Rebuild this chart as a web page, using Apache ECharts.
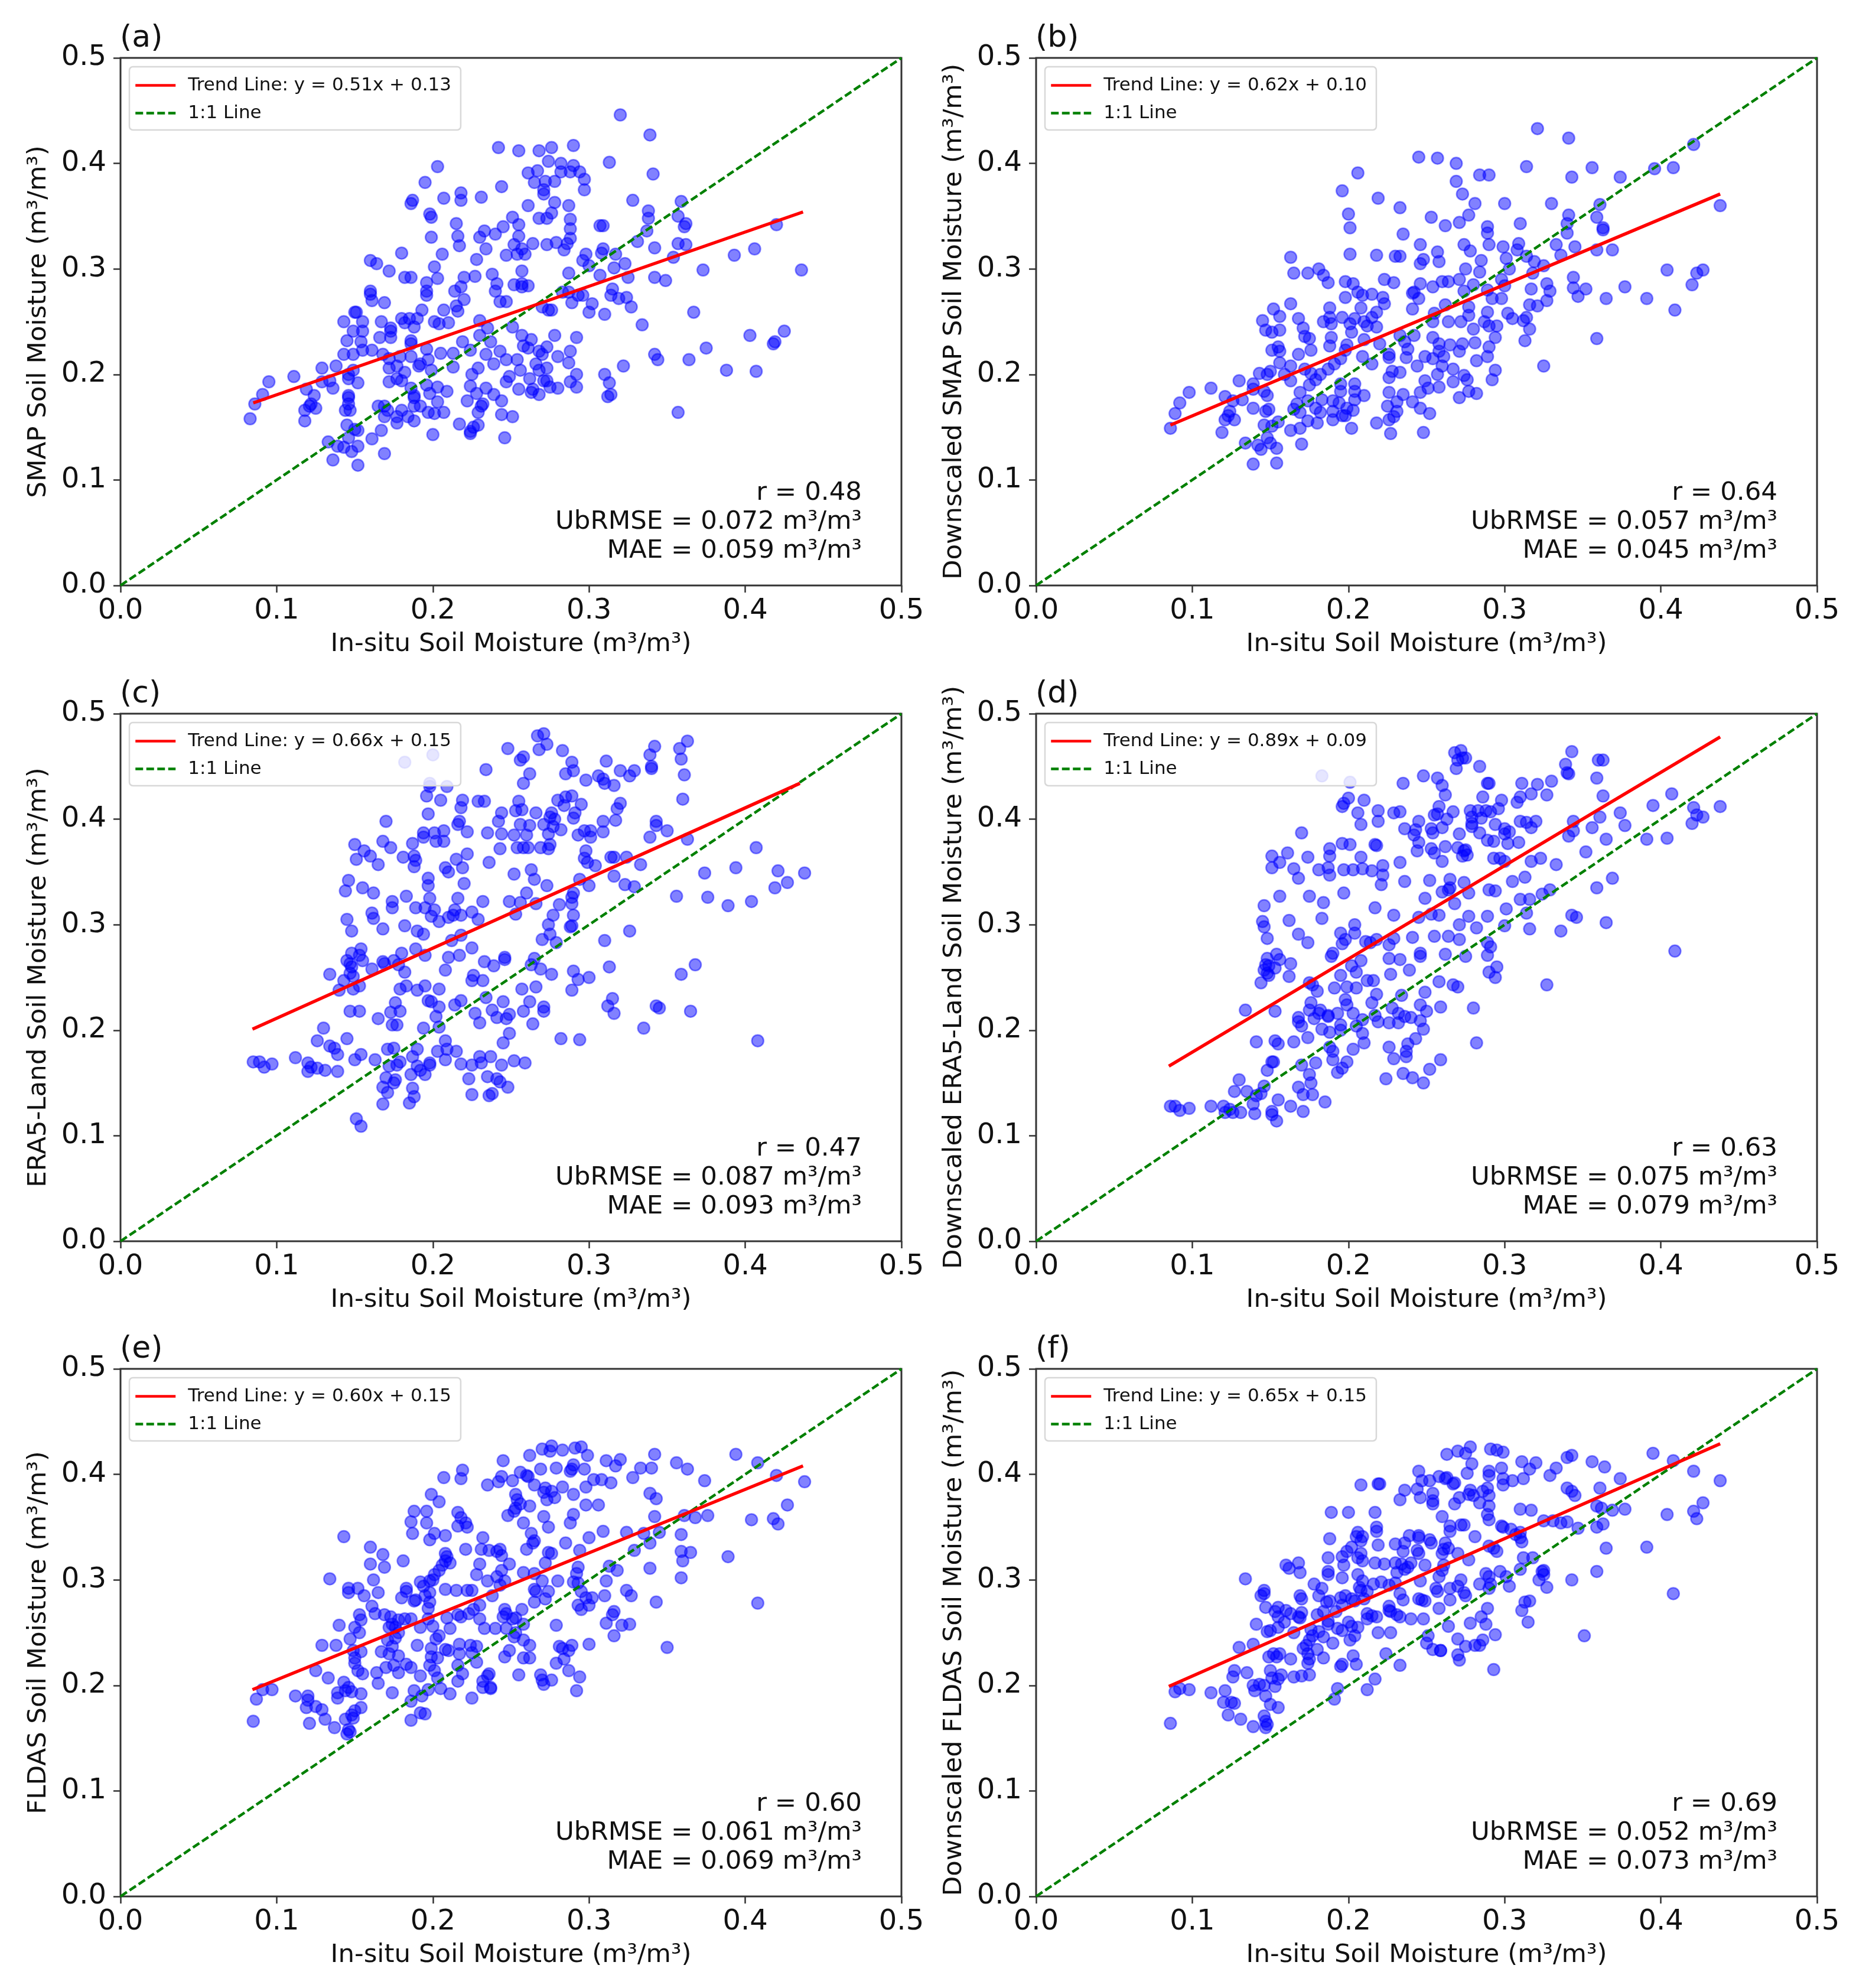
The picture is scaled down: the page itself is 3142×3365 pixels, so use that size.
<!DOCTYPE html>
<html><head><meta charset="utf-8">
<style>html,body{margin:0;padding:0;background:#fff}#c{width:3142px;height:3365px}</style>
<script src="https://cdn.jsdelivr.net/npm/echarts@6/dist/echarts.min.js"></script>
</head><body><div id="c"></div>
<script>
const pointsA=[[.320,.446],[.339,.427],[.242,.415],[.255,.412],[.268,.412],[.276,.415],[.290,.417],[.313,.401],[.274,.402],[.203,.397],[.282,.400],[.290,.398],[.261,.391],[.267,.393],[.282,.392],[.288,.392],[.294,.392],[.341,.390],[.297,.385],[.195,.382],[.265,.382],[.272,.383],[.278,.383],[.244,.378],[.297,.375],[.271,.375],[.271,.371],[.218,.372],[.218,.365],[.207,.367],[.231,.368],[.187,.365],[.186,.362],[.278,.363],[.328,.365],[.261,.360],[.287,.360],[.359,.364],[.338,.355],[.276,.353],[.198,.352],[.199,.349],[.251,.349],[.268,.348],[.273,.348],[.288,.347],[.338,.348],[.357,.350],[.215,.343],[.245,.340],[.255,.342],[.307,.341],[.309,.341],[.362,.343],[.361,.340],[.420,.342],[.233,.336],[.288,.338],[.337,.336],[.199,.330],[.216,.331],[.230,.330],[.240,.333],[.255,.331],[.288,.329],[.331,.326],[.264,.324],[.252,.323],[.273,.323],[.279,.325],[.286,.324],[.357,.324],[.362,.323],[.217,.322],[.234,.319],[.257,.319],[.284,.318],[.309,.319],[.342,.320],[.406,.319],[.180,.315],[.206,.314],[.247,.313],[.254,.314],[.259,.314],[.298,.314],[.308,.315],[.317,.314],[.393,.313],[.228,.309],[.160,.308],[.164,.305],[.296,.308],[.354,.311],[.323,.305],[.300,.303],[.201,.302],[.316,.301],[.257,.298],[.172,.298],[.287,.296],[.238,.295],[.373,.299],[.436,.299],[.182,.292],[.186,.292],[.203,.291],[.220,.292],[.227,.293],[.307,.294],[.325,.292],[.342,.292],[.349,.289],[.196,.287],[.241,.286],[.252,.285],[.257,.286],[.261,.284],[.257,.283],[.218,.283],[.240,.279],[.196,.279],[.160,.279],[.160,.276],[.214,.279],[.283,.278],[.287,.278],[.315,.281],[.196,.275],[.293,.275],[.296,.275],[.314,.275],[.319,.272],[.324,.273],[.220,.271],[.161,.270],[.169,.268],[.243,.269],[.247,.269],[.289,.268],[.302,.267],[.327,.264],[.215,.265],[.270,.264],[.274,.261],[.276,.261],[.193,.261],[.207,.261],[.216,.260],[.300,.259],[.310,.257],[.150,.259],[.151,.259],[.367,.259],[.185,.253],[.180,.253],[.190,.253],[.201,.250],[.143,.250],[.155,.250],[.167,.250],[.182,.249],[.204,.248],[.210,.249],[.230,.251],[.251,.245],[.173,.244],[.173,.241],[.149,.241],[.155,.241],[.188,.245],[.235,.244],[.334,.247],[.403,.237],[.425,.241],[.145,.232],[.166,.235],[.278,.237],[.173,.235],[.257,.237],[.292,.235],[.230,.237],[.263,.233],[.186,.232],[.154,.231],[.237,.231],[.219,.231],[.258,.227],[.419,.231],[.418,.229],[.186,.229],[.273,.226],[.155,.223],[.161,.223],[.196,.224],[.205,.220],[.213,.220],[.224,.223],[.243,.222],[.261,.225],[.268,.222],[.375,.225],[.143,.219],[.149,.219],[.168,.219],[.179,.217],[.186,.217],[.234,.219],[.270,.219],[.280,.217],[.342,.219],[.288,.222],[.364,.214],[.344,.214],[.197,.214],[.172,.215],[.247,.214],[.254,.214],[.266,.210],[.192,.210],[.191,.208],[.287,.211],[.322,.208],[.177,.208],[.138,.208],[.213,.207],[.129,.206],[.229,.206],[.239,.210],[.172,.206],[.256,.204],[.268,.204],[.273,.206],[.388,.204],[.407,.203],[.149,.204],[.146,.200],[.182,.202],[.199,.204],[.111,.198],[.292,.200],[.310,.200],[.225,.200],[.146,.196],[.177,.196],[.249,.198],[.262,.196],[.095,.193],[.134,.194],[.129,.193],[.152,.192],[.172,.193],[.180,.194],[.247,.193],[.271,.194],[.273,.194],[.288,.193],[.313,.192],[.186,.187],[.196,.190],[.203,.188],[.224,.189],[.234,.187],[.255,.186],[.264,.186],[.275,.188],[.280,.187],[.292,.188],[.119,.186],[.136,.187],[.146,.180],[.209,.184],[.188,.180],[.198,.182],[.228,.182],[.239,.181],[.263,.183],[.268,.181],[.091,.181],[.124,.180],[.314,.181],[.312,.179],[.146,.178],[.188,.178],[.222,.175],[.244,.175],[.086,.172],[.122,.172],[.121,.170],[.146,.172],[.203,.174],[.165,.170],[.169,.170],[.232,.172],[.231,.170],[.192,.170],[.188,.170],[.125,.168],[.118,.166],[.144,.166],[.147,.166],[.171,.166],[.180,.166],[.197,.164],[.207,.164],[.357,.164],[.229,.164],[.169,.160],[.177,.160],[.184,.160],[.201,.163],[.244,.162],[.251,.160],[.083,.158],[.188,.156],[.118,.156],[.177,.154],[.217,.153],[.229,.152],[.145,.152],[.226,.150],[.150,.148],[.152,.147],[.167,.147],[.224,.146],[.200,.143],[.224,.144],[.246,.140],[.161,.139],[.133,.136],[.146,.140],[.139,.132],[.152,.132],[.148,.127],[.143,.131],[.169,.125],[.136,.119],[.152,.114]];
const pointsB=[[.321,.433],[.341,.424],[.421,.418],[.245,.406],[.257,.405],[.269,.400],[.314,.397],[.356,.396],[.396,.395],[.408,.396],[.206,.391],[.284,.389],[.290,.389],[.343,.387],[.374,.387],[.269,.383],[.196,.374],[.273,.371],[.219,.367],[.281,.362],[.300,.362],[.330,.362],[.361,.361],[.233,.358],[.438,.360],[.200,.352],[.253,.349],[.277,.351],[.341,.351],[.359,.349],[.271,.344],[.310,.343],[.340,.343],[.201,.339],[.262,.341],[.289,.340],[.363,.339],[.363,.337],[.289,.334],[.235,.333],[.340,.334],[.246,.323],[.274,.323],[.290,.323],[.299,.321],[.309,.324],[.333,.323],[.345,.321],[.278,.317],[.359,.318],[.369,.318],[.308,.318],[.201,.314],[.218,.313],[.230,.312],[.233,.312],[.257,.316],[.301,.310],[.314,.312],[.336,.313],[.163,.311],[.248,.309],[.258,.307],[.246,.305],[.285,.308],[.319,.307],[.325,.303],[.303,.300],[.181,.300],[.165,.296],[.174,.296],[.184,.294],[.275,.300],[.284,.297],[.318,.296],[.404,.299],[.427,.299],[.423,.296],[.344,.292],[.187,.287],[.198,.288],[.203,.286],[.223,.290],[.229,.287],[.246,.286],[.260,.288],[.264,.288],[.271,.290],[.280,.285],[.298,.290],[.327,.286],[.420,.285],[.377,.283],[.344,.282],[.352,.281],[.254,.283],[.274,.279],[.289,.280],[.300,.284],[.317,.281],[.329,.279],[.206,.278],[.209,.275],[.215,.276],[.241,.277],[.242,.278],[.347,.274],[.222,.273],[.198,.273],[.245,.272],[.365,.272],[.391,.272],[.292,.272],[.298,.272],[.327,.270],[.223,.267],[.163,.267],[.262,.266],[.316,.266],[.321,.265],[.188,.263],[.208,.263],[.277,.264],[.152,.262],[.241,.262],[.409,.261],[.218,.259],[.302,.258],[.255,.258],[.156,.255],[.289,.259],[.277,.256],[.215,.254],[.168,.253],[.196,.254],[.188,.254],[.204,.253],[.210,.250],[.314,.254],[.305,.253],[.145,.251],[.184,.250],[.189,.248],[.201,.248],[.254,.250],[.264,.250],[.272,.250],[.287,.250],[.312,.251],[.212,.246],[.295,.246],[.290,.246],[.171,.244],[.218,.245],[.147,.242],[.156,.242],[.280,.243],[.316,.243],[.151,.240],[.202,.240],[.172,.236],[.233,.237],[.242,.237],[.254,.235],[.175,.234],[.189,.235],[.210,.233],[.294,.235],[.359,.234],[.313,.232],[.236,.231],[.220,.229],[.199,.228],[.281,.230],[.258,.229],[.265,.228],[.273,.229],[.188,.227],[.155,.226],[.238,.224],[.290,.226],[.151,.223],[.156,.222],[.258,.222],[.176,.223],[.271,.222],[.168,.219],[.226,.219],[.198,.223],[.209,.217],[.237,.216],[.289,.217],[.261,.217],[.254,.215],[.249,.217],[.226,.216],[.156,.211],[.195,.215],[.282,.213],[.215,.210],[.191,.210],[.244,.208],[.260,.208],[.325,.208],[.163,.208],[.187,.205],[.267,.205],[.172,.205],[.294,.204],[.228,.203],[.233,.202],[.150,.203],[.176,.201],[.148,.200],[.159,.200],[.182,.200],[.257,.200],[.274,.199],[.143,.201],[.226,.197],[.130,.194],[.163,.194],[.179,.195],[.292,.195],[.249,.194],[.267,.193],[.276,.195],[.139,.191],[.195,.191],[.204,.191],[.175,.190],[.258,.188],[.112,.187],[.251,.187],[.139,.186],[.146,.184],[.098,.183],[.169,.183],[.246,.183],[.277,.184],[.195,.184],[.204,.184],[.282,.182],[.226,.183],[.235,.181],[.121,.179],[.148,.180],[.210,.180],[.174,.175],[.271,.178],[.190,.175],[.132,.176],[.204,.176],[.183,.176],[.231,.174],[.241,.174],[.194,.173],[.092,.173],[.126,.175],[.167,.172],[.225,.170],[.246,.168],[.179,.168],[.139,.168],[.149,.167],[.165,.167],[.199,.168],[.190,.165],[.203,.166],[.231,.165],[.147,.165],[.124,.165],[.089,.163],[.182,.164],[.169,.164],[.252,.163],[.123,.161],[.196,.161],[.229,.160],[.121,.157],[.127,.157],[.174,.156],[.190,.157],[.180,.154],[.226,.157],[.218,.154],[.198,.161],[.146,.152],[.155,.155],[.086,.149],[.169,.149],[.202,.149],[.151,.151],[.163,.147],[.119,.145],[.248,.145],[.227,.144],[.148,.140],[.134,.135],[.170,.134],[.142,.133],[.150,.135],[.144,.129],[.154,.130],[.139,.115],[.154,.116]];
const pointsC=[[.271,.481],[.267,.479],[.273,.471],[.248,.467],[.342,.469],[.363,.474],[.358,.467],[.268,.466],[.283,.465],[.339,.461],[.182,.454],[.200,.461],[.258,.459],[.256,.456],[.359,.457],[.311,.455],[.289,.454],[.340,.450],[.340,.448],[.234,.447],[.320,.446],[.329,.446],[.290,.446],[.262,.443],[.285,.443],[.326,.441],[.361,.442],[.306,.441],[.309,.438],[.298,.437],[.310,.434],[.316,.432],[.258,.434],[.198,.434],[.209,.431],[.198,.431],[.196,.422],[.205,.418],[.219,.418],[.229,.417],[.233,.417],[.255,.417],[.285,.421],[.289,.422],[.280,.418],[.360,.419],[.218,.411],[.284,.413],[.295,.414],[.320,.415],[.318,.410],[.257,.409],[.253,.408],[.244,.406],[.266,.406],[.276,.406],[.197,.405],[.291,.406],[.290,.401],[.275,.402],[.278,.400],[.170,.398],[.242,.398],[.317,.399],[.309,.398],[.217,.398],[.216,.395],[.256,.395],[.262,.394],[.271,.395],[.343,.398],[.343,.394],[.277,.393],[.282,.390],[.297,.389],[.301,.389],[.309,.388],[.207,.389],[.194,.387],[.201,.387],[.222,.388],[.235,.387],[.244,.386],[.252,.385],[.260,.385],[.274,.386],[.293,.385],[.301,.383],[.350,.389],[.339,.383],[.194,.383],[.202,.379],[.207,.379],[.168,.379],[.187,.377],[.363,.381],[.150,.376],[.173,.373],[.275,.376],[.258,.373],[.254,.373],[.261,.373],[.243,.372],[.269,.373],[.274,.372],[.407,.373],[.156,.370],[.298,.370],[.222,.367],[.160,.365],[.181,.364],[.188,.365],[.314,.364],[.316,.364],[.324,.364],[.297,.363],[.151,.362],[.215,.362],[.189,.361],[.299,.359],[.236,.359],[.165,.357],[.188,.355],[.333,.357],[.304,.356],[.219,.354],[.208,.354],[.263,.352],[.210,.350],[.394,.354],[.421,.351],[.438,.349],[.374,.349],[.252,.348],[.316,.346],[.265,.343],[.197,.344],[.294,.343],[.146,.342],[.427,.340],[.220,.339],[.197,.337],[.273,.337],[.300,.337],[.323,.338],[.329,.336],[.419,.335],[.155,.335],[.144,.332],[.162,.330],[.260,.330],[.290,.330],[.356,.327],[.183,.327],[.289,.326],[.376,.326],[.216,.325],[.198,.325],[.249,.322],[.174,.322],[.232,.322],[.404,.322],[.256,.321],[.266,.320],[.281,.319],[.289,.320],[.174,.316],[.189,.316],[.195,.316],[.389,.318],[.201,.314],[.214,.314],[.161,.311],[.225,.312],[.218,.309],[.253,.310],[.199,.308],[.210,.307],[.213,.309],[.277,.309],[.290,.309],[.162,.306],[.145,.305],[.229,.305],[.204,.303],[.182,.299],[.274,.300],[.289,.299],[.288,.298],[.168,.296],[.148,.294],[.190,.294],[.326,.294],[.194,.291],[.275,.291],[.218,.290],[.270,.286],[.310,.285],[.212,.285],[.279,.283],[.225,.278],[.154,.277],[.189,.277],[.148,.273],[.180,.273],[.195,.271],[.153,.271],[.210,.269],[.217,.271],[.246,.269],[.246,.267],[.265,.268],[.145,.266],[.155,.266],[.168,.265],[.175,.266],[.147,.263],[.233,.265],[.148,.260],[.169,.263],[.178,.262],[.239,.261],[.313,.260],[.263,.262],[.368,.262],[.161,.258],[.208,.257],[.269,.258],[.290,.256],[.182,.255],[.147,.254],[.134,.253],[.276,.253],[.226,.252],[.359,.253],[.149,.251],[.225,.247],[.232,.247],[.300,.250],[.293,.248],[.143,.247],[.153,.242],[.195,.242],[.183,.242],[.179,.239],[.266,.241],[.257,.239],[.140,.238],[.149,.239],[.190,.238],[.204,.239],[.289,.238],[.234,.231],[.315,.230],[.197,.228],[.199,.227],[.218,.228],[.176,.226],[.245,.227],[.262,.227],[.214,.224],[.312,.223],[.343,.223],[.345,.221],[.204,.222],[.271,.222],[.271,.218],[.238,.219],[.179,.218],[.147,.218],[.153,.218],[.173,.217],[.258,.218],[.365,.218],[.227,.216],[.249,.215],[.316,.216],[.202,.213],[.241,.212],[.247,.211],[.165,.211],[.230,.207],[.264,.206],[.174,.205],[.177,.205],[.130,.202],[.204,.203],[.335,.202],[.194,.202],[.249,.197],[.145,.192],[.282,.192],[.294,.191],[.408,.190],[.126,.190],[.208,.190],[.245,.188],[.134,.185],[.137,.183],[.209,.182],[.171,.182],[.175,.183],[.190,.182],[.203,.180],[.215,.180],[.139,.177],[.154,.177],[.187,.175],[.230,.175],[.237,.175],[.112,.174],[.163,.172],[.150,.172],[.208,.172],[.085,.170],[.089,.170],[.179,.170],[.198,.169],[.120,.169],[.231,.169],[.252,.171],[.259,.169],[.097,.168],[.092,.165],[.218,.168],[.225,.167],[.244,.167],[.172,.166],[.177,.167],[.122,.165],[.126,.164],[.190,.166],[.198,.167],[.120,.161],[.139,.161],[.131,.162],[.192,.162],[.195,.158],[.186,.158],[.170,.155],[.235,.156],[.223,.154],[.241,.154],[.176,.153],[.243,.151],[.175,.150],[.168,.146],[.248,.146],[.187,.145],[.171,.141],[.225,.139],[.238,.140],[.236,.138],[.188,.137],[.168,.130],[.185,.131],[.151,.116],[.154,.109]];
const pointsD=[[.272,.465],[.268,.463],[.275,.458],[.343,.464],[.360,.456],[.363,.456],[.270,.456],[.273,.458],[.339,.452],[.269,.448],[.284,.450],[.340,.444],[.341,.443],[.359,.439],[.248,.441],[.257,.439],[.235,.434],[.260,.432],[.289,.434],[.290,.434],[.311,.434],[.321,.433],[.330,.436],[.183,.441],[.201,.435],[.262,.423],[.327,.423],[.317,.424],[.363,.422],[.286,.421],[.310,.421],[.407,.424],[.200,.420],[.210,.418],[.298,.418],[.197,.415],[.308,.416],[.196,.412],[.395,.413],[.258,.412],[.438,.412],[.421,.411],[.296,.410],[.206,.406],[.219,.408],[.229,.406],[.233,.407],[.267,.407],[.278,.408],[.283,.408],[.288,.408],[.291,.407],[.255,.404],[.257,.405],[.374,.406],[.423,.404],[.427,.402],[.279,.402],[.285,.401],[.263,.400],[.361,.402],[.219,.398],[.245,.398],[.310,.398],[.314,.397],[.320,.398],[.344,.398],[.279,.396],[.208,.395],[.170,.387],[.236,.391],[.243,.390],[.253,.391],[.260,.392],[.279,.393],[.294,.395],[.300,.391],[.317,.392],[.377,.394],[.356,.392],[.344,.389],[.242,.385],[.254,.387],[.271,.386],[.284,.387],[.300,.386],[.303,.388],[.341,.384],[.420,.396],[.404,.382],[.391,.381],[.365,.381],[.309,.378],[.289,.380],[.293,.379],[.302,.377],[.245,.378],[.253,.372],[.262,.374],[.270,.373],[.275,.371],[.196,.377],[.201,.376],[.217,.376],[.218,.375],[.188,.372],[.244,.370],[.255,.368],[.274,.370],[.352,.369],[.276,.366],[.273,.365],[.151,.365],[.161,.368],[.174,.364],[.188,.365],[.208,.364],[.260,.360],[.293,.363],[.297,.363],[.300,.360],[.323,.363],[.156,.359],[.233,.359],[.222,.356],[.317,.360],[.333,.357],[.151,.354],[.165,.353],[.181,.352],[.187,.354],[.197,.352],[.203,.352],[.209,.353],[.215,.351],[.188,.347],[.222,.347],[.168,.344],[.313,.345],[.369,.344],[.236,.341],[.252,.342],[.265,.343],[.274,.340],[.305,.341],[.221,.338],[.265,.335],[.264,.333],[.359,.335],[.290,.333],[.294,.332],[.329,.333],[.197,.330],[.260,.331],[.277,.330],[.156,.327],[.175,.327],[.324,.329],[.249,.325],[.310,.324],[.316,.324],[.184,.321],[.146,.318],[.268,.320],[.217,.316],[.301,.315],[.253,.310],[.229,.309],[.314,.311],[.343,.309],[.346,.307],[.183,.306],[.245,.307],[.258,.309],[.277,.308],[.289,.308],[.145,.303],[.162,.304],[.204,.300],[.271,.300],[.300,.299],[.316,.296],[.365,.302],[.146,.298],[.282,.297],[.336,.294],[.168,.291],[.195,.292],[.204,.292],[.241,.288],[.255,.289],[.264,.289],[.271,.286],[.148,.287],[.198,.286],[.174,.283],[.229,.287],[.218,.286],[.196,.282],[.211,.284],[.214,.283],[.226,.281],[.289,.283],[.291,.279],[.409,.275],[.190,.273],[.189,.270],[.246,.273],[.262,.272],[.275,.270],[.246,.270],[.289,.271],[.154,.272],[.148,.268],[.156,.267],[.226,.268],[.233,.267],[.208,.266],[.163,.263],[.147,.262],[.149,.261],[.202,.261],[.295,.260],[.290,.255],[.153,.259],[.205,.255],[.239,.257],[.146,.257],[.148,.254],[.149,.252],[.195,.252],[.227,.253],[.162,.251],[.294,.250],[.212,.247],[.216,.247],[.175,.245],[.144,.245],[.258,.246],[.267,.243],[.270,.241],[.327,.243],[.177,.243],[.191,.240],[.199,.241],[.205,.240],[.180,.237],[.249,.236],[.218,.234],[.234,.233],[.198,.229],[.176,.226],[.215,.226],[.199,.224],[.246,.224],[.259,.222],[.280,.221],[.134,.219],[.153,.218],[.175,.219],[.182,.219],[.228,.221],[.250,.218],[.181,.216],[.187,.214],[.193,.216],[.203,.216],[.232,.216],[.236,.213],[.168,.212],[.178,.211],[.187,.213],[.240,.212],[.209,.210],[.217,.214],[.246,.209],[.168,.208],[.226,.207],[.232,.207],[.219,.208],[.170,.204],[.195,.205],[.205,.204],[.183,.201],[.248,.201],[.188,.198],[.195,.200],[.209,.197],[.243,.192],[.174,.193],[.141,.189],[.153,.190],[.155,.187],[.165,.189],[.238,.187],[.210,.188],[.282,.188],[.226,.184],[.188,.184],[.203,.182],[.190,.180],[.237,.180],[.229,.173],[.237,.175],[.259,.172],[.151,.170],[.190,.172],[.199,.170],[.152,.170],[.170,.167],[.179,.169],[.148,.162],[.196,.164],[.252,.163],[.193,.160],[.175,.158],[.224,.154],[.235,.159],[.241,.155],[.130,.153],[.248,.150],[.176,.150],[.168,.146],[.146,.147],[.127,.142],[.135,.142],[.141,.138],[.144,.140],[.171,.139],[.177,.139],[.155,.134],[.139,.130],[.185,.132],[.112,.128],[.086,.128],[.089,.128],[.098,.126],[.092,.124],[.120,.128],[.124,.125],[.121,.122],[.126,.122],[.131,.122],[.140,.121],[.151,.123],[.151,.120],[.163,.128],[.171,.123],[.154,.114]];
const pointsE=[[.276,.427],[.270,.424],[.291,.425],[.295,.426],[.283,.423],[.299,.418],[.262,.418],[.275,.422],[.342,.419],[.394,.419],[.245,.413],[.311,.413],[.320,.414],[.356,.411],[.408,.411],[.290,.409],[.317,.408],[.279,.406],[.269,.405],[.289,.405],[.297,.405],[.333,.406],[.340,.406],[.363,.405],[.219,.404],[.288,.403],[.256,.402],[.260,.399],[.207,.397],[.218,.396],[.244,.398],[.261,.398],[.303,.395],[.308,.395],[.328,.397],[.242,.393],[.251,.394],[.265,.390],[.314,.392],[.374,.394],[.420,.399],[.438,.393],[.235,.390],[.272,.387],[.283,.388],[.276,.384],[.298,.388],[.271,.383],[.339,.382],[.199,.381],[.253,.381],[.290,.381],[.278,.378],[.343,.377],[.273,.376],[.254,.376],[.204,.374],[.256,.372],[.298,.371],[.306,.371],[.262,.370],[.427,.371],[.253,.368],[.252,.365],[.188,.365],[.196,.365],[.216,.364],[.290,.362],[.248,.361],[.271,.360],[.342,.360],[.361,.361],[.368,.359],[.376,.361],[.218,.359],[.186,.355],[.196,.354],[.221,.354],[.258,.354],[.288,.354],[.404,.357],[.418,.358],[.421,.353],[.216,.351],[.222,.350],[.274,.350],[.309,.346],[.324,.345],[.187,.344],[.201,.344],[.263,.344],[.335,.344],[.345,.345],[.208,.342],[.198,.338],[.359,.343],[.143,.341],[.300,.340],[.232,.340],[.265,.337],[.285,.335],[.339,.335],[.264,.335],[.160,.331],[.221,.329],[.231,.329],[.236,.328],[.241,.327],[.243,.329],[.260,.329],[.274,.326],[.168,.324],[.329,.328],[.208,.325],[.209,.322],[.244,.323],[.276,.325],[.294,.328],[.359,.327],[.365,.326],[.208,.318],[.181,.318],[.389,.322],[.360,.318],[.206,.314],[.160,.315],[.230,.315],[.249,.315],[.211,.316],[.169,.312],[.272,.316],[.293,.312],[.313,.313],[.204,.309],[.244,.309],[.339,.311],[.201,.305],[.258,.307],[.265,.306],[.292,.306],[.318,.309],[.228,.305],[.241,.303],[.359,.302],[.134,.301],[.162,.300],[.198,.299],[.200,.300],[.235,.299],[.246,.299],[.270,.299],[.280,.299],[.311,.299],[.192,.298],[.290,.298],[.194,.294],[.243,.295],[.293,.297],[.146,.292],[.152,.292],[.183,.292],[.265,.291],[.208,.291],[.215,.290],[.222,.290],[.225,.290],[.266,.289],[.295,.289],[.324,.290],[.183,.289],[.165,.288],[.274,.289],[.198,.288],[.146,.288],[.238,.285],[.327,.285],[.310,.285],[.298,.283],[.195,.285],[.156,.285],[.180,.283],[.272,.282],[.302,.283],[.189,.281],[.198,.279],[.265,.279],[.188,.280],[.343,.279],[.408,.278],[.161,.275],[.230,.276],[.293,.276],[.300,.276],[.197,.273],[.226,.272],[.295,.272],[.257,.272],[.153,.267],[.163,.268],[.216,.267],[.247,.268],[.246,.272],[.169,.267],[.316,.270],[.315,.267],[.173,.265],[.245,.265],[.253,.264],[.197,.263],[.209,.264],[.218,.265],[.223,.268],[.154,.262],[.178,.262],[.182,.263],[.174,.258],[.230,.263],[.251,.263],[.176,.255],[.186,.263],[.311,.259],[.321,.257],[.258,.258],[.140,.257],[.150,.255],[.192,.255],[.200,.256],[.326,.258],[.172,.255],[.211,.254],[.233,.254],[.240,.254],[.247,.254],[.279,.257],[.153,.250],[.178,.250],[.253,.250],[.204,.247],[.147,.244],[.316,.247],[.202,.244],[.252,.246],[.258,.243],[.176,.245],[.171,.243],[.350,.236],[.129,.238],[.138,.238],[.300,.239],[.281,.237],[.190,.238],[.174,.237],[.217,.239],[.224,.238],[.228,.237],[.262,.238],[.289,.238],[.199,.235],[.149,.233],[.208,.234],[.154,.232],[.167,.232],[.210,.233],[.225,.231],[.249,.233],[.283,.235],[.287,.233],[.150,.226],[.172,.230],[.178,.228],[.199,.227],[.203,.226],[.217,.230],[.284,.225],[.258,.226],[.262,.226],[.246,.227],[.228,.222],[.279,.221],[.183,.220],[.175,.219],[.170,.217],[.150,.221],[.186,.217],[.198,.219],[.216,.219],[.152,.214],[.125,.214],[.164,.212],[.178,.212],[.201,.214],[.219,.211],[.236,.211],[.155,.211],[.192,.209],[.133,.207],[.203,.207],[.255,.210],[.269,.210],[.294,.208],[.287,.214],[.235,.209],[.270,.205],[.276,.205],[.232,.204],[.216,.204],[.165,.202],[.143,.203],[.232,.198],[.237,.198],[.271,.201],[.237,.197],[.146,.198],[.144,.195],[.292,.195],[.139,.193],[.148,.194],[.154,.192],[.174,.193],[.188,.195],[.197,.196],[.205,.197],[.120,.190],[.112,.190],[.097,.196],[.091,.196],[.139,.188],[.193,.190],[.211,.192],[.087,.187],[.225,.188],[.186,.185],[.120,.186],[.125,.180],[.154,.179],[.119,.179],[.150,.176],[.129,.177],[.148,.172],[.192,.174],[.195,.173],[.149,.169],[.144,.168],[.131,.168],[.186,.167],[.085,.166],[.121,.164],[.137,.160],[.146,.158],[.147,.156],[.145,.154]];
const pointsF=[[.278,.426],[.270,.422],[.291,.424],[.295,.423],[.299,.421],[.275,.420],[.263,.419],[.395,.420],[.343,.418],[.340,.416],[.408,.413],[.311,.412],[.356,.412],[.364,.407],[.279,.410],[.298,.406],[.320,.411],[.333,.406],[.316,.405],[.245,.403],[.290,.403],[.329,.399],[.290,.399],[.276,.401],[.421,.403],[.374,.396],[.263,.397],[.438,.394],[.258,.398],[.262,.396],[.247,.394],[.252,.394],[.268,.392],[.299,.396],[.305,.394],[.312,.396],[.208,.390],[.219,.391],[.220,.391],[.299,.390],[.267,.391],[.361,.387],[.289,.387],[.340,.387],[.343,.384],[.345,.380],[.236,.385],[.244,.386],[.278,.385],[.286,.384],[.254,.382],[.277,.381],[.280,.380],[.271,.378],[.290,.380],[.246,.378],[.233,.376],[.254,.375],[.268,.372],[.254,.372],[.284,.373],[.290,.370],[.427,.373],[.359,.370],[.421,.365],[.404,.362],[.189,.364],[.200,.364],[.217,.364],[.362,.368],[.377,.367],[.369,.366],[.317,.366],[.310,.367],[.289,.362],[.260,.360],[.290,.357],[.423,.358],[.325,.356],[.336,.354],[.340,.355],[.359,.350],[.363,.353],[.274,.352],[.218,.350],[.265,.351],[.272,.352],[.298,.351],[.304,.348],[.347,.349],[.299,.350],[.331,.356],[.218,.346],[.265,.346],[.206,.345],[.310,.345],[.307,.343],[.239,.342],[.245,.342],[.281,.341],[.188,.339],[.205,.341],[.209,.341],[.208,.337],[.245,.340],[.252,.338],[.310,.340],[.311,.336],[.236,.335],[.253,.335],[.262,.335],[.219,.333],[.230,.334],[.264,.330],[.202,.331],[.290,.332],[.293,.330],[.365,.330],[.391,.331],[.244,.328],[.235,.327],[.199,.327],[.196,.322],[.208,.325],[.245,.325],[.261,.329],[.260,.325],[.270,.325],[.295,.327],[.187,.321],[.206,.321],[.312,.321],[.318,.321],[.168,.316],[.160,.314],[.217,.316],[.223,.315],[.230,.316],[.240,.316],[.249,.314],[.277,.319],[.209,.318],[.197,.314],[.234,.315],[.162,.311],[.236,.310],[.238,.312],[.261,.314],[.310,.310],[.325,.309],[.169,.307],[.187,.308],[.260,.309],[.206,.305],[.231,.307],[.288,.306],[.297,.308],[.359,.308],[.325,.305],[.324,.308],[.290,.303],[.301,.303],[.187,.305],[.258,.303],[.134,.301],[.196,.302],[.322,.300],[.343,.300],[.272,.300],[.178,.296],[.209,.299],[.221,.298],[.230,.297],[.216,.296],[.284,.296],[.226,.295],[.246,.299],[.291,.296],[.207,.293],[.303,.294],[.270,.294],[.183,.292],[.256,.292],[.265,.292],[.290,.292],[.327,.293],[.146,.290],[.208,.290],[.212,.289],[.233,.287],[.257,.289],[.274,.288],[.146,.287],[.169,.285],[.181,.285],[.198,.285],[.195,.283],[.202,.282],[.144,.285],[.275,.285],[.408,.287],[.245,.282],[.170,.282],[.188,.280],[.186,.279],[.204,.280],[.210,.282],[.235,.281],[.247,.281],[.249,.280],[.265,.281],[.313,.279],[.316,.280],[.226,.275],[.147,.274],[.155,.274],[.196,.276],[.258,.273],[.289,.273],[.311,.271],[.184,.270],[.192,.270],[.226,.271],[.160,.271],[.170,.269],[.227,.270],[.153,.270],[.163,.268],[.180,.267],[.212,.268],[.231,.267],[.168,.265],[.169,.264],[.215,.266],[.233,.265],[.285,.265],[.315,.260],[.155,.265],[.218,.265],[.240,.263],[.212,.263],[.248,.263],[.187,.261],[.159,.260],[.200,.260],[.278,.259],[.187,.258],[.141,.258],[.202,.256],[.264,.256],[.288,.258],[.150,.252],[.155,.255],[.193,.254],[.206,.255],[.148,.251],[.165,.250],[.176,.253],[.196,.252],[.181,.251],[.219,.250],[.227,.250],[.294,.248],[.177,.247],[.184,.246],[.204,.247],[.251,.247],[.351,.247],[.175,.243],[.190,.240],[.201,.243],[.250,.240],[.270,.244],[.286,.243],[.130,.236],[.139,.239],[.171,.235],[.173,.238],[.180,.234],[.254,.234],[.259,.233],[.275,.237],[.281,.238],[.284,.238],[.152,.230],[.156,.230],[.174,.230],[.259,.233],[.203,.228],[.224,.230],[.270,.229],[.149,.227],[.154,.227],[.163,.225],[.175,.225],[.184,.226],[.271,.224],[.195,.218],[.196,.220],[.205,.220],[.174,.221],[.233,.219],[.127,.214],[.135,.212],[.126,.208],[.150,.214],[.157,.210],[.165,.208],[.170,.209],[.175,.210],[.293,.215],[.217,.206],[.151,.207],[.155,.206],[.146,.200],[.143,.201],[.139,.200],[.153,.199],[.098,.196],[.092,.197],[.140,.195],[.112,.193],[.121,.195],[.089,.194],[.193,.197],[.212,.196],[.147,.190],[.191,.187],[.120,.184],[.125,.184],[.127,.183],[.150,.182],[.155,.179],[.123,.172],[.146,.171],[.131,.168],[.147,.166],[.148,.163],[.086,.164],[.139,.161],[.147,.160]];

const allPoints=[pointsA,pointsB,pointsC,pointsD,pointsE,pointsF];
const trendLines=[[[.085,.173],[.437,.354]],[[.086,.152],[.438,.371]],[[.0845,.201],[.435,.434]],[[.085,.166],[.438,.478]],[[.0845,.196],[.437,.408]],[[.085,.199],[.438,.429]]];
const oneToOne=[[0,0],[.5,.5]];
const trendNames=['Trend Line: y = 0.51x + 0.13','Trend Line: y = 0.62x + 0.10','Trend Line: y = 0.66x + 0.15','Trend Line: y = 0.89x + 0.09','Trend Line: y = 0.60x + 0.15','Trend Line: y = 0.65x + 0.15'];
const panelTags=['(a)','(b)','(c)','(d)','(e)','(f)'];
const yLabels=['SMAP Soil Moisture (m³/m³)','Downscaled SMAP Soil Moisture (m³/m³)','ERA5-Land Soil Moisture (m³/m³)','Downscaled ERA5-Land Soil Moisture (m³/m³)','FLDAS Soil Moisture (m³/m³)','Downscaled FLDAS Soil Moisture (m³/m³)'];
const xLabel='In-situ Soil Moisture (m³/m³)';
const rValues=['0.48','0.64','0.47','0.63','0.60','0.69'];
const ubrmseValues=['0.072','0.057','0.087','0.075','0.061','0.052'];
const maeValues=['0.059','0.045','0.093','0.079','0.069','0.073'];

const FONT='"DejaVu Sans"';
const colLeft=[204,1754],rowTop=[98,1208,2317],PW=1322,PH=893;
const grid=[],xAxis=[],yAxis=[],series=[],title=[],legend=[];
allPoints.forEach((pts,i)=>{
  const L=colLeft[i%2],T=rowTop[Math.floor(i/2)];
  grid.push({left:L,top:T,width:PW,height:PH,show:true,backgroundColor:'#fff',borderColor:'#333',borderWidth:3,containLabel:false});
  const axisCommon={type:'value',min:0,max:.5,interval:.1,gridIndex:i,splitLine:{show:false},
    axisLine:{show:false,onZero:false},axisTick:{show:true,length:12,lineStyle:{color:'#333',width:2.5}},
    nameLocation:'middle',nameTextStyle:{fontFamily:FONT,fontSize:43.5,color:'#111'},
    axisLabel:{fontFamily:FONT,fontSize:48,color:'#111',formatter:v=>v.toFixed(1)}};
  xAxis.push({...axisCommon,name:xLabel,nameGap:78,axisLabel:{...axisCommon.axisLabel,margin:20}});
  yAxis.push({...axisCommon,name:yLabels[i],nameGap:116,axisLabel:{...axisCommon.axisLabel,margin:24}});
  series.push({type:'scatter',name:'Samples '+panelTags[i],xAxisIndex:i,yAxisIndex:i,data:pts,symbolSize:20,z:2,
    itemStyle:{color:'rgba(0,0,255,0.62)',borderColor:'rgba(0,0,255,0.6)',borderWidth:2.5}});
  series.push({type:'line',name:trendNames[i],xAxisIndex:i,yAxisIndex:i,data:trendLines[i],showSymbol:false,symbol:'none',z:4,
    lineStyle:{color:'#ff0000',width:5.5},itemStyle:{color:'#ff0000'}});
  series.push({type:'line',name:'1:1 Line',xAxisIndex:i,yAxisIndex:i,data:oneToOne,showSymbol:false,symbol:'none',z:3,
    lineStyle:{color:'#008000',width:4.5,type:[13,5.5]},itemStyle:{color:'#008000'}});
  title.push({text:panelTags[i],left:L-1,top:T-59,padding:0,textStyle:{fontFamily:FONT,fontSize:52,fontWeight:'normal',color:'#111'}});
  title.push({text:'r = '+rValues[i]+'\nUbRMSE = '+ubrmseValues[i]+' m³/m³\nMAE = '+maeValues[i]+' m³/m³',
    left:L+PW-67,top:T+PH-181,padding:0,textAlign:'right',
    textStyle:{fontFamily:FONT,fontSize:43.5,lineHeight:49,fontWeight:'normal',color:'#111',align:'right'}});
  legend.push({orient:'vertical',left:L+15,top:T+15,data:[trendNames[i],'1:1 Line'],itemWidth:68,itemHeight:10,itemGap:16,
    selectedMode:false,padding:[16,16,13,8],backgroundColor:'rgba(255,255,255,0.8)',borderColor:'#d8d8d8',borderWidth:2.5,borderRadius:6,
    itemStyle:{opacity:0,color:'transparent',borderWidth:0},lineStyle:{width:4.5,opacity:1},
    textStyle:{fontFamily:FONT,fontSize:31,color:'#111',padding:[0,0,0,16]}});
});
const chart=echarts.init(document.getElementById('c'),null,{renderer:'canvas',width:3142,height:3365});
chart.setOption({animation:false,backgroundColor:'#fff',grid,xAxis,yAxis,series,title,legend});
</script></body></html>
